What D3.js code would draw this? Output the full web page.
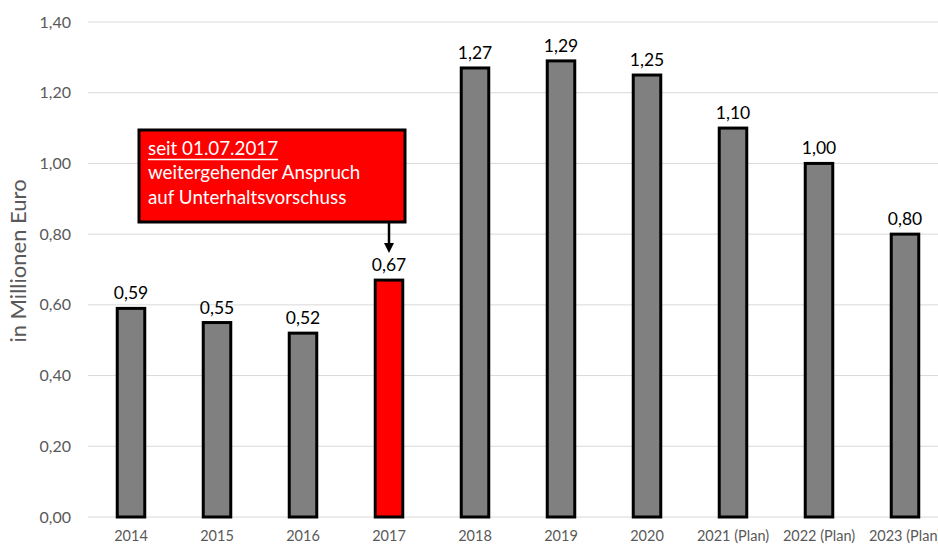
<!DOCTYPE html>
<html><head><meta charset="utf-8">
<script src="https://cdn.jsdelivr.net/npm/d3@7/dist/d3.min.js"></script>
<style>body{margin:0;background:#fff;overflow:hidden}svg{display:block}text{font-family:Lato,"Open Sans",sans-serif}</style>
</head><body><svg id="c" width="938" height="548"></svg>
<script>
const categories = ["2014","2015","2016","2017","2018","2019","2020","2021 (Plan)","2022 (Plan)","2023 (Plan)"];
const values = [0.59,0.55,0.52,0.67,1.27,1.29,1.25,1.10,1.00,0.80];
const highlight = ["2017"];
const yTicks = [0,0.2,0.4,0.6,0.8,1.0,1.2,1.4];
const annotationLines = ["seit 01.07.2017","weitergehender Anspruch","auf Unterhaltsvorschuss"];
const yTitle = "in Millionen Euro";

const svg = d3.select("#c");
const fmt = v => d3.format(".2f")(v).replace(".", ",");
const x = d3.scaleBand().domain(categories).range([88, 948]).paddingInner(0.68).paddingOuter(0.34);
const y = d3.scaleLinear().domain([0, 1.4]).range([517, 22]);

// gridlines
svg.append("g").selectAll("line").data(yTicks).join("line")
  .attr("x1", 88).attr("x2", 938).attr("y1", d => y(d)).attr("y2", d => y(d))
  .attr("stroke", "#d9d9d9").attr("stroke-width", 1);

// y axis labels
const yAxis = d3.axisLeft(y).tickValues(yTicks).tickFormat(fmt).tickSize(0).tickPadding(0);
const ya = svg.append("g").attr("transform", "translate(71,0)").call(yAxis);
ya.select(".domain").remove();
ya.selectAll("text").attr("fill", "#595959").style("font-size", "16px").style("font-family", "Lato,'Open Sans',sans-serif");

// x axis labels
const xAxis = d3.axisBottom(x).tickSize(0).tickPadding(0);
const xa = svg.append("g").attr("transform", "translate(0,531)").call(xAxis);
xa.select(".domain").remove();
xa.selectAll("text").attr("fill", "#595959").style("font-size", "14.5px").style("font-family", "Lato,'Open Sans',sans-serif");

// bars
svg.append("g").selectAll("rect").data(categories).join("rect")
  .attr("x", d => x(d)).attr("width", x.bandwidth())
  .attr("y", (d, i) => y(values[i])).attr("height", (d, i) => y(0) - y(values[i]))
  .attr("fill", d => highlight.includes(d) ? "#ff0000" : "#808080")
  .attr("stroke", "#000").attr("stroke-width", 3);

// data labels
svg.append("g").selectAll("text").data(categories).join("text")
  .attr("x", d => x(d) + x.bandwidth() / 2).attr("y", (d, i) => y(values[i]) - 9)
  .attr("text-anchor", "middle").attr("fill", "#000").style("font-size", "17.5px")
  .text((d, i) => fmt(values[i]));

// y title
svg.append("text").attr("transform", `translate(26,261) rotate(-90)`)
  .attr("text-anchor", "middle").attr("fill", "#595959").style("font-size", "22px").text(yTitle);

// annotation
const hx = x("2017") + x.bandwidth() / 2;
const g = svg.append("g");
g.append("rect").attr("x", 139).attr("y", 130).attr("width", 266).attr("height", 92)
  .attr("fill", "#ff0000").attr("stroke", "#000").attr("stroke-width", 3);
annotationLines.forEach((t, i) => {
  const tx = g.append("text").attr("x", 148).attr("y", 154.5 + i * 24.5).attr("fill", "#fff")
    .style("font-size", "18.8px").text(t);
  if (i === 0) {
    const w = tx.node().getComputedTextLength();
    g.append("line").attr("x1", 148).attr("x2", 148 + w).attr("y1", 159.5).attr("y2", 159.5)
      .attr("stroke", "#fff").attr("stroke-width", 1.3);
  }
});
g.append("line").attr("x1", hx).attr("x2", hx).attr("y1", 222).attr("y2", 245)
  .attr("stroke", "#000").attr("stroke-width", 2.5);
g.append("path").attr("d", `M${hx - 5},${243} L${hx + 5},${243} L${hx},${253} Z`).attr("fill", "#000");
</script></body></html>
